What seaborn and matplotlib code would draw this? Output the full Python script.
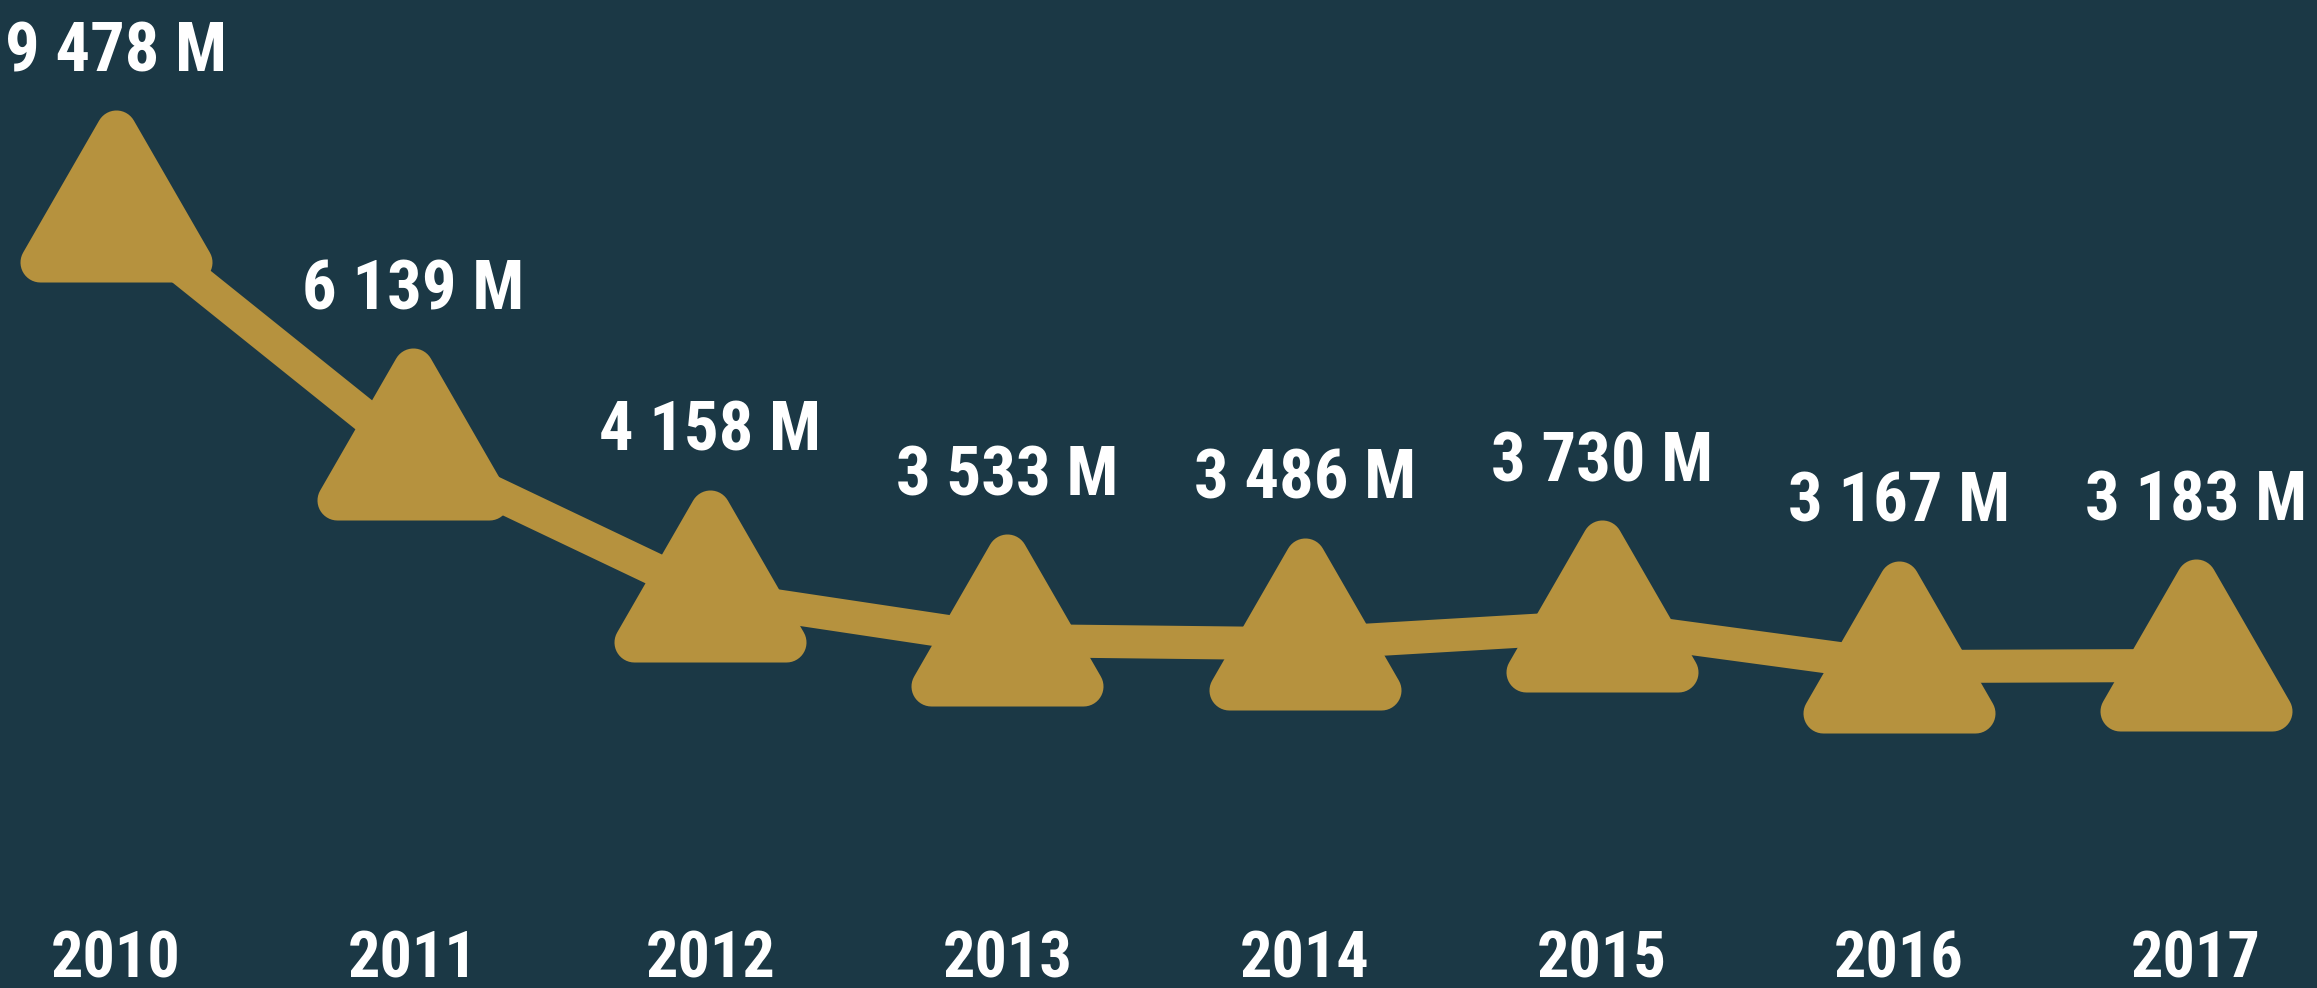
import os
import numpy as np
import pandas as pd
import matplotlib
matplotlib.use("Agg")
import matplotlib.pyplot as plt
import seaborn as sns
from matplotlib.path import Path
from matplotlib import font_manager
from matplotlib.font_manager import FontProperties

years = [2010, 2011, 2012, 2013, 2014, 2015, 2016, 2017]
values = [9478, 6139, 4158, 3533, 3486, 3730, 3167, 3183]  # millions
value_labels = ["9 478 M", "6 139 M", "4 158 M", "3 533 M",
                "3 486 M", "3 730 M", "3 167 M", "3 183 M"]

BG = "#1b3845"
GOLD = "#b6923e"

sns.set_theme(style="white")
plt.rcParams["font.family"] = ["DejaVu Sans"]


def pick_narrow_font():
    # look for a condensed / narrow bold face among installed fonts
    wanted = ["robotocondensed-bold", "notosans-condensedbold",
              "opensans-condensedbold", "opensans_condensed-bold",
              "liberationsansnarrow-bold", "dejavusanscondensed-bold",
              "notosans-condensedsemibold"]
    files = {os.path.basename(f.fname).lower(): f.fname
             for f in font_manager.fontManager.ttflist}
    for w in wanted:
        for k, v in files.items():
            if k.startswith(w):
                return FontProperties(fname=v)
    for f in font_manager.fontManager.ttflist:
        if "condensed" in str(f.stretch) and f.weight in ("bold", 700, 600, "semibold"):
            return FontProperties(fname=f.fname)
    return FontProperties(family="DejaVu Sans", weight="bold")


def fit_size(labels, size, limit):
    # measure on a scratch figure so the main one is only rendered once
    tmp = plt.figure(figsize=(4, 2), dpi=100)
    r = tmp.canvas.get_renderer()
    w = max(tmp.text(0, 0, s, fontproperties=FP, fontsize=size)
            .get_window_extent(r).width for s in labels)
    plt.close(tmp)
    return size * min(1.0, limit / w)


def rounded_triangle(corners, radius, n=16):
    # corners given counter-clockwise; outline offset outward by radius
    corners = np.asarray(corners, float)
    pts = []
    k = len(corners)
    for i in range(k):
        prev_, cur, nxt = corners[i - 1], corners[i], corners[(i + 1) % k]
        e1, e2 = cur - prev_, nxt - cur
        a1 = np.arctan2(-e1[0], e1[1])
        a2 = np.arctan2(-e2[0], e2[1])
        if a2 < a1:
            a2 += 2 * np.pi
        for a in np.linspace(a1, a2, n):
            pts.append(cur + radius * np.array([np.cos(a), np.sin(a)]))
    pts.append(pts[0])
    codes = [Path.MOVETO] + [Path.LINETO] * (len(pts) - 2) + [Path.CLOSEPOLY]
    return Path(np.array(pts), codes)


FP = pick_narrow_font()
VAL_SIZE = fit_size(value_labels, 57, 222)
YEAR_SIZE = fit_size([str(y) for y in years], 53, 130)

df = pd.DataFrame({"year": years, "value": values})

# rounded triangle marker; the line runs through its lower part
marker = rounded_triangle([(0, 86), (-76, -46), (76, -46)], 20)

fig = plt.figure(figsize=(23.17, 9.88), dpi=100)
fig.patch.set_facecolor(BG)
ax = fig.add_axes([0, 0, 1, 1])
ax.set_facecolor(BG)

sns.lineplot(data=df, x="year", y="value", ax=ax, color=GOLD,
             linewidth=23.8, solid_capstyle="butt",
             marker=marker, markersize=152.6,
             markerfacecolor=GOLD, markeredgewidth=0)

ax.set_xlim(2010 - 0.3904, 2017.407)
ax.set_ylim(-1336, 12505)
ax.axis("off")

for yr, v, lab in zip(years, values, value_labels):
    ax.annotate(lab, xy=(yr, v), xytext=(0, 104.4),
                textcoords="offset points", ha="center",
                va="baseline", color="white",
                fontproperties=FP, fontsize=VAL_SIZE)
    ax.text(yr, 0.011, str(yr), transform=ax.get_xaxis_transform(),
            ha="center", va="baseline", color="white",
            fontproperties=FP, fontsize=YEAR_SIZE)

fig.savefig("out.png", dpi=100, facecolor=BG)
plt.close(fig)
